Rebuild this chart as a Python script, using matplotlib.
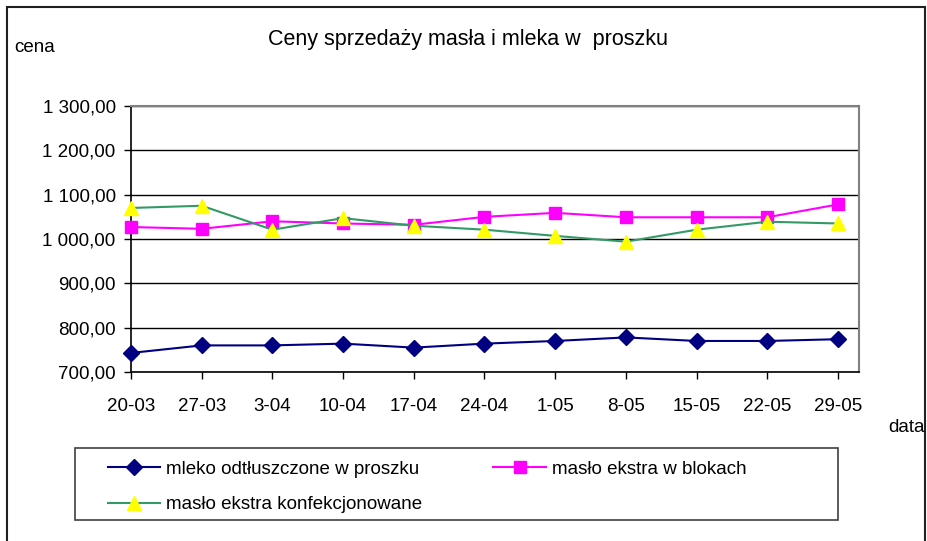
import numpy as np
import matplotlib.pyplot as plt
from matplotlib.patches import Rectangle

plt.rcParams["font.family"] = ["Liberation Sans", "DejaVu Sans"]

dates = ["20-03", "27-03", "3-04", "10-04", "17-04", "24-04",
         "1-05", "8-05", "15-05", "22-05", "29-05"]
mleko = [743, 760, 760, 764, 755, 764, 770, 778, 770, 770, 774]
maslo_blok = [1027, 1023, 1040, 1035, 1032, 1050, 1059, 1049, 1049, 1049, 1078]
maslo_konf = [1070, 1075, 1021, 1047, 1030, 1021, 1007, 994, 1021, 1039, 1035]

y_ticks = [700, 800, 900, 1000, 1100, 1200, 1300]
y_labels = ["700,00", "800,00", "900,00", "1 000,00", "1 100,00", "1 200,00", "1 300,00"]

W, H = 927, 541
FS = 13.5
fig = plt.figure(figsize=(W / 100, H / 100), dpi=100)
ax = fig.add_axes([131 / W, 1 - 372 / H, (859 - 131) / W, (372 - 106) / H])

x = np.arange(len(dates))
l1, = ax.plot(x, mleko, color="#000080", lw=1.5, marker="D", ms=8.5,
              mfc="#000080", mec="#000080", label="mleko odtłuszczone w proszku",
              clip_on=False, zorder=3)
l2, = ax.plot(x, maslo_blok, color="#FF00FF", lw=1.5, marker="s", ms=9,
              mfc="#FF00FF", mec="#FF00FF", label="masło ekstra w blokach",
              clip_on=False, zorder=3)
l3, = ax.plot(x, maslo_konf, color="#339966", lw=1.5, marker="^", ms=10.5,
              mfc="#FFFF00", mec="#FFFF00", label="masło ekstra konfekcjonowane",
              clip_on=False, zorder=4)

ax.set_xlim(0, (859 - 131) / 70.7)
ax.set_ylim(700, 1300)
ax.set_yticks(y_ticks)
ax.set_yticklabels(y_labels, fontsize=FS)
ax.set_xticks(x)
ax.set_xticklabels(dates, fontsize=FS)
ax.tick_params(axis="both", direction="out", length=5, width=1, colors="black")
ax.tick_params(axis="x", pad=14)
ax.tick_params(axis="y", pad=6)
ax.yaxis.grid(True, color="black", lw=1)
ax.set_axisbelow(True)
for s in ["top", "right"]:
    ax.spines[s].set_color("#808080")
    ax.spines[s].set_linewidth(1.5)
for s in ["left", "bottom"]:
    ax.spines[s].set_color("black")
    ax.spines[s].set_linewidth(1.2)

fig.text(468 / W, 1 - 40 / H, "Ceny sprzedaży masła i mleka w  proszku",
         ha="center", va="center", fontsize=15.5)
fig.text(14 / W, 1 - 47 / H, "cena", ha="left", va="center", fontsize=FS)
fig.text(888 / W, 1 - 427 / H, "data", ha="left", va="center", fontsize=FS)

# legend frame drawn separately, Excel style wide box
fig.patches.append(Rectangle((75 / W, 1 - 520 / H), (838 - 75) / W, 72 / H,
                             transform=fig.transFigure, fill=False,
                             edgecolor="#404040", lw=1.2))
leg = fig.legend(handles=[l1, l3, l2], ncol=2, loc="upper left",
                 bbox_to_anchor=(91 / W, 1 - 444 / H),
                 fontsize=FS, frameon=False, borderaxespad=0,
                 handlelength=2.8, handletextpad=0.3, borderpad=0.9,
                 labelspacing=0.96, columnspacing=3.8)

fig.patches.append(Rectangle((7 / W, -0.02), (925 - 7) / W, 1.02 - 7 / H,
                             transform=fig.transFigure, fill=False,
                             edgecolor="#202020", lw=1.5))

fig.savefig("out.png", dpi=100)
